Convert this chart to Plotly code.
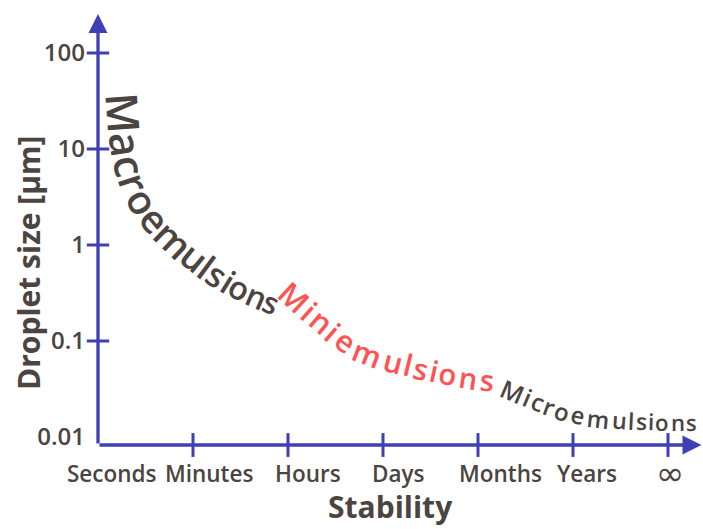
import numpy as np
import plotly.graph_objects as go

# ---------------- data ----------------
stability_labels = ["Seconds", "Minutes", "Hours", "Days", "Months", "Years", "∞"]
size_ticks = [0.01, 0.1, 1, 10, 100]
size_tick_text = ["0.01", "0.1", "1", "10", "100"]

# droplet size (µm) vs stability (category index) along which each label is written
macro_x = [0.253, 0.295, 0.368, 0.495, 0.758, 1.126, 1.495, 1.895]
macro_y = [37.4, 12.4, 5.36, 2.61, 1.27, 0.619, 0.357, 0.237]
mini_x = [1.937, 2.337, 2.758, 3.358, 3.863, 4.179]
mini_y = [0.374, 0.1655, 0.0806, 0.0536, 0.0422, 0.0392]
micro_x = [4.232, 4.632, 5.042, 5.442, 5.916, 6.316]
micro_y = [0.0340, 0.0232, 0.0169, 0.0150, 0.0143, 0.0143]

# ---------------- style ----------------
BLUE = "#3f3fb6"
TEXT = "#4b4440"
RED = "#ff5252"
FONT = "Open Sans"
label_xshift = [14, 16, 20, 15, 22, 14, 2]

W, H = 703, 529
ML, MR, MT, MB = 98, 0, 14, 84
PW, PH = W - ML - MR, H - MT - MB
X0, X1 = 0.0, PW / 95.0
Y0, Y1 = -2 - 8 / 96.0, 2 + 39 / 96.0

def to_px(xd, yd):
    xd = np.asarray(xd, float); yd = np.asarray(yd, float)
    return (ML + (xd - X0) / (X1 - X0) * PW,
            MT + (Y1 - np.log10(yd)) / (Y1 - Y0) * PH)

def from_px(p, q):
    return X0 + (p - ML) / PW * (X1 - X0), Y1 - (q - MT) / PH * (Y1 - Y0)

def catmull(P, n=40):
    P = np.asarray(P, float)
    ext = np.vstack([2 * P[0] - P[1], P, 2 * P[-1] - P[-2]])
    out = []
    t = np.linspace(0, 1, n, endpoint=False)[:, None]
    for i in range(1, len(ext) - 2):
        p0, p1, p2, p3 = ext[i - 1], ext[i], ext[i + 1], ext[i + 2]
        out.append(0.5 * ((2 * p1) + (-p0 + p2) * t + (2 * p0 - 5 * p1 + 4 * p2 - p3) * t ** 2
                          + (-p0 + 3 * p1 - 3 * p2 + p3) * t ** 3))
    out.append(P[-1][None, :])
    return np.vstack(out)

EM = {"M": 0.93, "a": 0.58, "c": 0.5, "r": 0.43, "o": 0.61, "e": 0.58, "m": 0.95,
      "u": 0.63, "l": 0.28, "s": 0.5, "i": 0.28, "n": 0.63}

def path_text(word, xs, ys, color, s0, s1, nshift=0.0):
    px, py = to_px(xs, ys)
    pts = catmull(np.column_stack([px, py]))
    seg = np.hypot(np.diff(pts[:, 0]), np.diff(pts[:, 1]))
    s = np.concatenate([[0], np.cumsum(seg)])
    L = s[-1]
    sizes = np.linspace(s0, s1, len(word))
    w = np.array([EM[c] * f for c, f in zip(word, sizes)])
    cum = np.concatenate([[0], np.cumsum(w)[:-1]])
    centers = (cum + w / 2) / w.sum() * L
    anns = []
    for c, f, sc in zip(word, sizes, centers):
        x = np.interp(sc, s, pts[:, 0]); y = np.interp(sc, s, pts[:, 1])
        xa = np.interp(sc - 2, s, pts[:, 0]); ya = np.interp(sc - 2, s, pts[:, 1])
        xb = np.interp(sc + 2, s, pts[:, 0]); yb = np.interp(sc + 2, s, pts[:, 1])
        th = np.arctan2(yb - ya, xb - xa)
        x += nshift * np.sin(th); y -= nshift * np.cos(th)
        xd, yl = from_px(x, y)
        anns.append(dict(x=xd, y=yl, xref="x", yref="y", text=c, showarrow=False,
                         textangle=float(np.degrees(th)), xanchor="center", yanchor="middle",
                         font=dict(family=FONT, size=float(f), color=color, weight=600)))
    return anns

fig = go.Figure()

# tick marks crossing the axes
fig.add_trace(go.Scatter(x=list(range(1, len(stability_labels))),
                         y=[10 ** Y0] * (len(stability_labels) - 1), mode="markers",
                         marker=dict(symbol="line-ns", size=17, line=dict(width=3, color=BLUE)),
                         cliponaxis=False, hoverinfo="skip", showlegend=False))
fig.add_trace(go.Scatter(x=[0] * (len(size_ticks) - 1), y=size_ticks[1:], mode="markers",
                         marker=dict(symbol="line-ew", size=16, line=dict(width=3, color=BLUE)),
                         cliponaxis=False, hoverinfo="skip", showlegend=False))
# arrow heads at the axis ends
fig.add_trace(go.Scatter(x=[0], y=[10 ** Y1], mode="markers",
                         marker=dict(symbol="arrow-up", size=19, color=BLUE, line=dict(width=0)),
                         cliponaxis=False, hoverinfo="skip", showlegend=False))
fig.add_trace(go.Scatter(x=[X1 - 1.5 / 95], y=[10 ** Y0], mode="markers",
                         marker=dict(symbol="arrow-right", size=19, color=BLUE, line=dict(width=0)),
                         cliponaxis=False, hoverinfo="skip", showlegend=False))

anns = []
# axis lines
anns.append(dict(x=X1 - 15 / 95, y=Y0, ax=0, ay=Y0, xref="x", yref="y", axref="x", ayref="y",
                 showarrow=True, arrowhead=0, arrowwidth=3.3, arrowcolor=BLUE, text=""))
anns.append(dict(x=0, y=Y1 - 15 / 96, ax=0, ay=Y0, xref="x", yref="y", axref="x", ayref="y",
                 showarrow=True, arrowhead=0, arrowwidth=3.3, arrowcolor=BLUE, text=""))

# stability labels
for i, (lab, dx) in enumerate(zip(stability_labels, label_xshift)):
    if lab == "∞":
        fnt = dict(family="DejaVu Sans", size=34, color=TEXT)
    else:
        fnt = dict(family=FONT, size=22.5, color=TEXT, weight=600)
    anns.append(dict(x=i, y=Y0, xref="x", yref="y", text=lab, showarrow=False,
                     xanchor="center", yanchor="middle", xshift=dx, yshift=-28, font=fnt))

# axis titles
anns.append(dict(x=(390 - ML) / PW, y=0, xref="paper", yref="paper", text="Stability",
                 showarrow=False, xanchor="center", yanchor="bottom", yshift=-(H - 1 - (H - MB)),
                 borderpad=0,
                 font=dict(family=FONT, size=30, color=TEXT, weight=700)))
anns.append(dict(x=(28 - ML) / PW, y=(H - MB - 263) / PH, xref="paper", yref="paper",
                 text="Droplet size [μm]", textangle=-90, showarrow=False,
                 xanchor="center", yanchor="middle",
                 font=dict(family=FONT, size=30, color=TEXT, weight=700)))

anns += path_text("Macroemulsions", macro_x, macro_y, TEXT, 44, 30)
anns += path_text("Miniemulsions", mini_x, mini_y, RED, 31, 29)
anns += path_text("Microemulsions", micro_x, micro_y, TEXT, 25, 22)

fig.update_layout(
    width=W, height=H, margin=dict(l=ML, r=MR, t=MT, b=MB),
    paper_bgcolor="white", plot_bgcolor="white",
    xaxis=dict(range=[X0, X1], showgrid=False, zeroline=False, showline=False,
               showticklabels=False, ticks=""),
    yaxis=dict(type="log", range=[Y0, Y1], showgrid=False, zeroline=False, showline=False,
               tickvals=size_ticks, ticktext=size_tick_text, ticks="", ticklabelstandoff=12,
               tickfont=dict(family=FONT, size=24, color=TEXT, weight=600)),
    annotations=anns,
)

fig.write_html("out.html", config={"displayModeBar": False},
               post_script="document.body.style.margin='0';")
